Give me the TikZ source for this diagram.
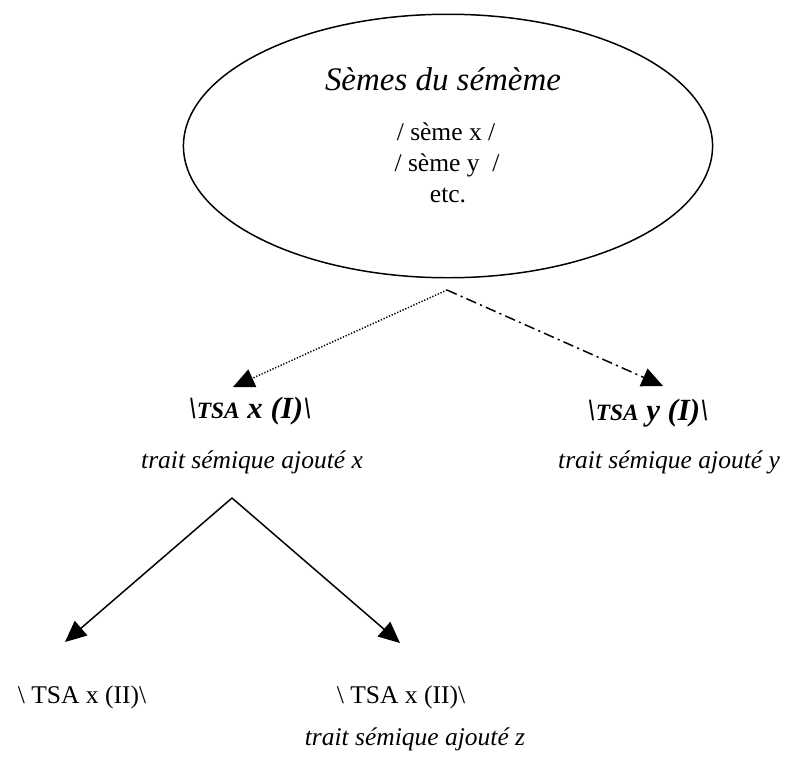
\documentclass[tikz,border=0pt]{standalone}
\usepackage{fontspec}
\setmainfont{Liberation Serif}
\usepackage{tikz}
\usetikzlibrary{arrows.meta}
\usetikzlibrary{shapes.geometric}
\usetikzlibrary{positioning}
\newcommand{\tsa}[1]{{\fontsize{11}{13}\selectfont\textbf{\textit{#1}}}}

\begin{document}
\begin{tikzpicture}[x=0.4706pt,y=-0.4706pt,>={Triangle[length=10pt,width=9pt]},
    line width=0.7pt,
    plain text/.style={anchor=base,inner sep=0pt,font=\fontsize{12}{14}\selectfont},
    trait text/.style={anchor=base,inner sep=0pt,font=\fontsize{12}{14}\selectfont\itshape},
    tsa text/.style={anchor=base,inner sep=0pt,font=\fontsize{14.5}{17}\selectfont\bfseries\itshape}]
    \useasboundingbox (0,0) rectangle (790,758);
    % le semene
    \node[ellipse,draw,minimum width=249pt,minimum height=124pt,inner sep=0pt] (sememe) at (448,146) {};
    \node[anchor=base,inner sep=0pt,font=\fontsize{15.5}{19}\selectfont\itshape] (titre) at (443,90) {Sèmes du sémème};
    \node[plain text] (semx) at (446,140) {/ sème x /};
    \node[plain text] (semy) at (447,171) {/ sème y\ \ /};
    \node[plain text] (etcl) at (448,202) {etc.};

    % premier niveau
    \coordinate (top) at (447,290);
    \coordinate (tipx) at (233,387);
    \coordinate (tipy) at (663,386);
    \node[tsa text] (tsax) at (250,418) {\textbackslash\tsa{TSA} x (I)\textbackslash};
    \node[tsa text] (tsay) at (648,420) {\textbackslash\tsa{TSA} y (I)\textbackslash};
    \node[trait text] (traitx) at (252,468) {trait sémique ajouté x};
    \node[trait text] (traity) at (669,468) {trait sémique ajouté y};
    \draw[->,dash pattern=on 0.6pt off 0.8pt] (top) -- (tipx);
    \draw[->,dash pattern=on 5pt off 2pt on 1pt off 2pt] (top) -- (tipy);

    % second niveau
    \coordinate (fork) at (232,498);
    \coordinate (tipa) at (65,642);
    \coordinate (tipb) at (400,643);
    \node[plain text] (tsaxa) at (82,703) {\textbackslash\ TSA x (II)\textbackslash};
    \node[plain text] (tsaxb) at (401,703) {\textbackslash\ TSA x (II)\textbackslash};
    \node[trait text] (traitz) at (415,745) {trait sémique ajouté z};
    \draw[->] (fork) -- (tipa);
    \draw[->] (fork) -- (tipb);
\end{tikzpicture}
\end{document}
